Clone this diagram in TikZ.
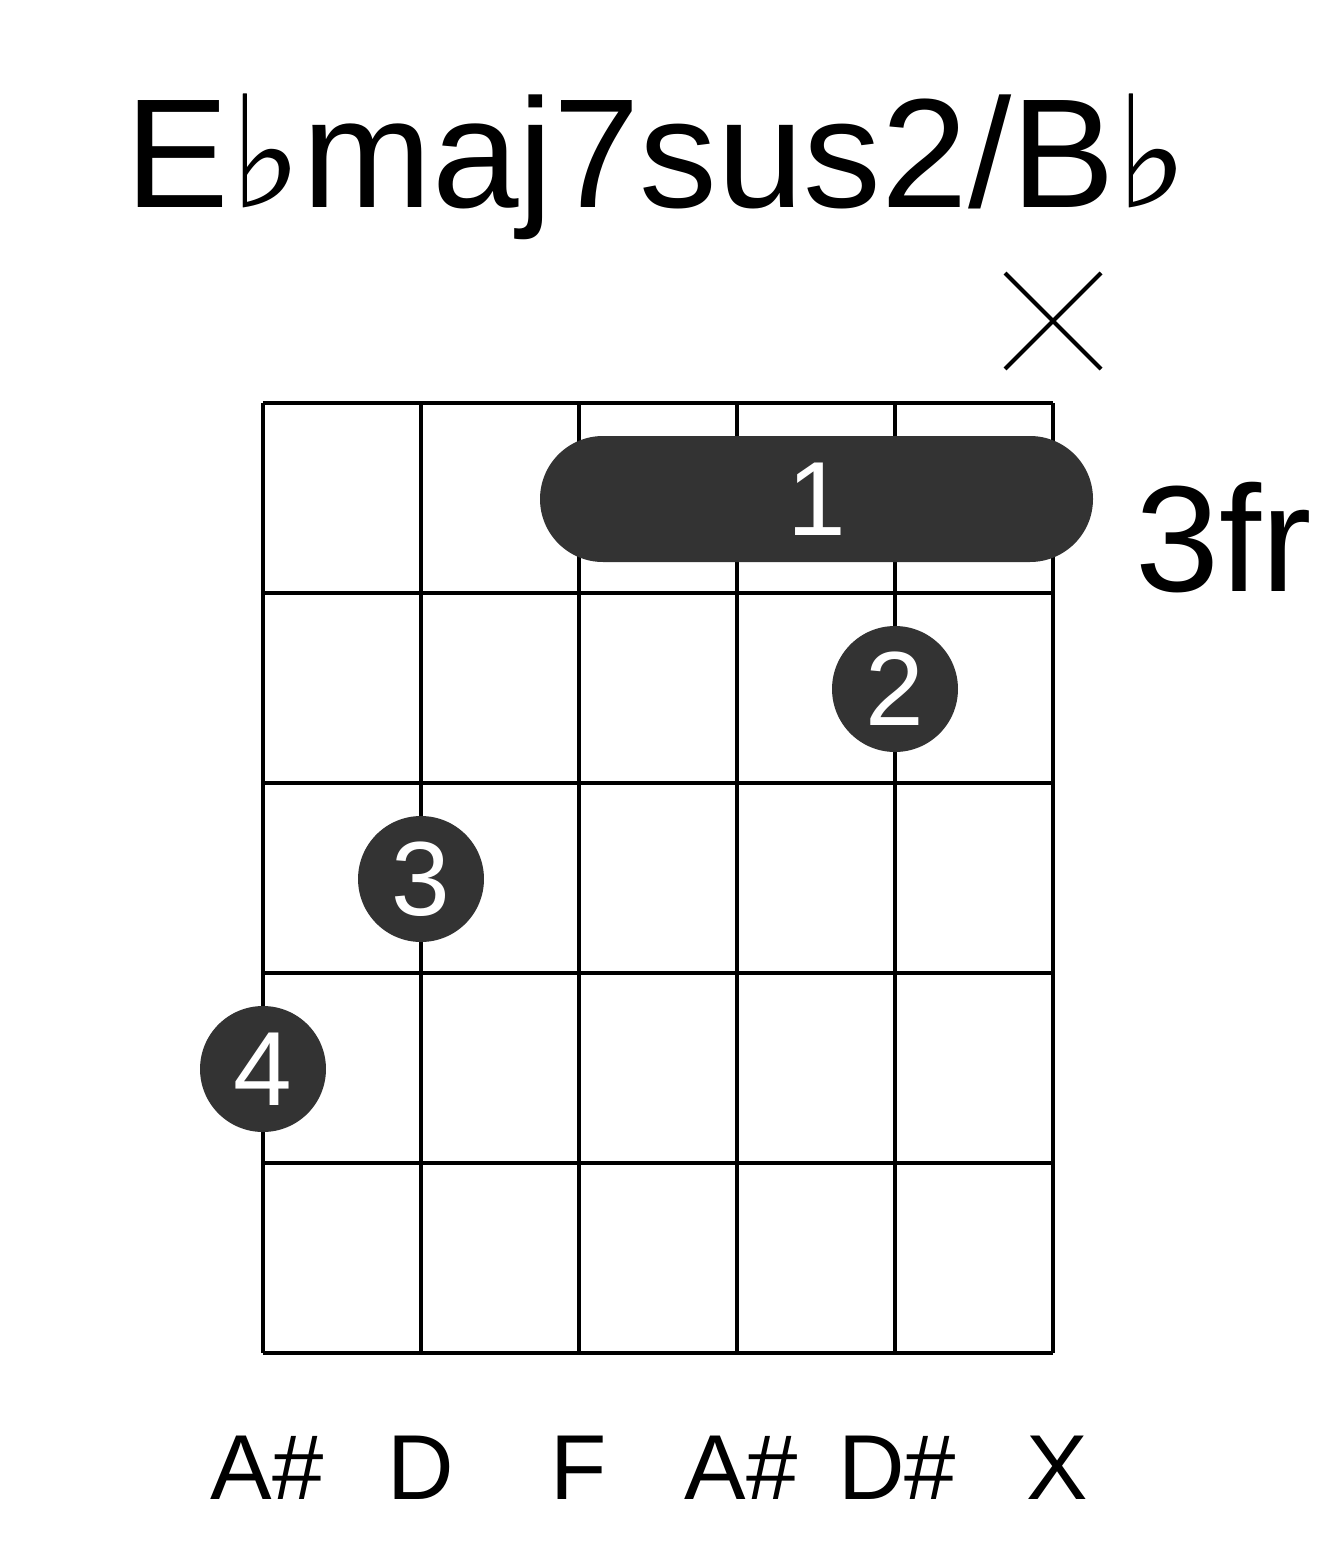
\documentclass[tikz,border=0pt]{standalone}
\usepackage{fontspec}
\setmainfont{Liberation Sans}
\newfontfamily\flatfont{DejaVu Sans}
\usetikzlibrary{positioning}
\definecolor{dotgray}{HTML}{333333}
\newcommand\flt{{\flatfont ♭}}
\tikzset{
  chordname/.style={anchor=base, inner sep=0pt, font=\fontsize{88.5}{88.5}\selectfont},
  fretlbl/.style={anchor=base west, inner sep=0pt, font=\fontsize{86}{86}\selectfont},
  notelbl/.style={anchor=base, inner sep=0pt, font=\fontsize{52.5}{52.5}\selectfont},
  finger/.style={circle, fill=dotgray, inner sep=0pt, minimum size=2.52cm, text=white, font=\fontsize{60}{60}\selectfont},
}

\begin{document}
\begin{tikzpicture}[x=0.02cm, y=-0.02cm, line width=2.8pt]
    \useasboundingbox (0,0) rectangle (1317,1551);
    \node[chordname] (name) at (657,208) {E\flt maj7sus2/B\flt};
    % strings and frets
    \foreach \s in {0,...,5} \draw (263+158*\s,403) -- (263+158*\s,1353);
    \foreach \f in {0,...,5} \draw (263,403+190*\f) -- (1053,403+190*\f);
    % muted string
    \coordinate (mute) at (1053,321);
    \draw[line width=2.4pt] ([shift={(-48,-48)}]mute) -- ([shift={(48,48)}]mute);
    \draw[line width=2.4pt] ([shift={(-48,48)}]mute) -- ([shift={(48,-48)}]mute);
    % barre
    \fill[dotgray, rounded corners=1.26cm] (540,436) rectangle (1093,562);
    \node[text=white, inner sep=0pt, font=\fontsize{60}{60}\selectfont] (barre) at (817,499) {1};
    \node[fretlbl] (fr) at (1133,591) {3fr};
    \foreach \x/\y/\n in {895/689/2, 421/879/3, 263/1069/4}
        \node[finger] (f\n) at (\x,\y) {\n};
    \foreach \x/\t [count=\i] in {267/A\#, 421/D, 579/F, 741/A\#, 897/D\#, 1057/X}
        \node[notelbl] (n\i) at (\x,1499) {\t};
\end{tikzpicture}
\end{document}
